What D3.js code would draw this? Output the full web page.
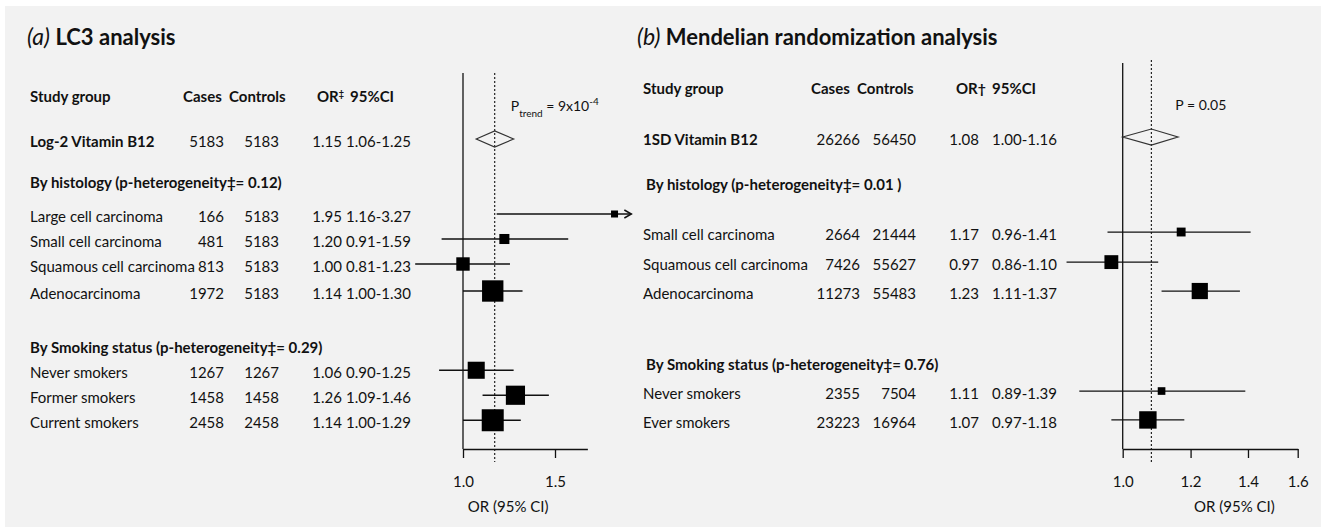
<!DOCTYPE html>
<html>
<head>
<meta charset="utf-8">
<script src="https://cdn.jsdelivr.net/npm/d3@7"></script>
<style>
  body { margin: 0; background: #fff; }
  svg { display: block; font-family: Lato, "Noto Sans", sans-serif; }
</style>
</head>
<body>
<div id="container"></div>
<script>
const { d3 } = window;

// (a) LC3 analysis
const aLabels = ['Log-2 Vitamin B12', 'Large cell carcinoma', 'Small cell carcinoma', 'Squamous cell carcinoma',
  'Adenocarcinoma', 'Never smokers', 'Former smokers', 'Current smokers'];
const aCases = [5183, 166, 481, 813, 1972, 1267, 1458, 2458];
const aControls = [5183, 5183, 5183, 5183, 5183, 1267, 1458, 2458];
const aOR = [1.15, 1.95, 1.20, 1.00, 1.14, 1.06, 1.26, 1.14];
const aLo = [1.06, 1.16, 0.91, 0.81, 1.00, 0.90, 1.09, 1.00];
const aHi = [1.25, 3.27, 1.59, 1.23, 1.30, 1.25, 1.46, 1.29];
const aSections = ['By histology (p-heterogeneity‡= 0.12)', 'By Smoking status (p-heterogeneity‡= 0.29)'];
const aTicks = [1.0, 1.5];

// (b) Mendelian randomization analysis
const bLabels = ['1SD Vitamin B12', 'Small cell carcinoma', 'Squamous cell carcinoma', 'Adenocarcinoma',
  'Never smokers', 'Ever smokers'];
const bCases = [26266, 2664, 7426, 11273, 2355, 23223];
const bControls = [56450, 21444, 55627, 55483, 7504, 16964];
const bOR = [1.08, 1.17, 0.97, 1.23, 1.11, 1.07];
const bLo = [1.00, 0.96, 0.86, 1.11, 0.89, 0.97];
const bHi = [1.16, 1.41, 1.10, 1.37, 1.39, 1.18];
const bSections = ['By histology (p-heterogeneity‡= 0.01 )', 'By Smoking status (p-heterogeneity‡= 0.76)'];
const bTicks = [1.0, 1.2, 1.4, 1.6];

const W = 1321;
const H = 529;
const INK = '#111';
const FS = 15;
const f2 = d3.format('.2f');
const f1 = d3.format('.1f');

const svg = d3.select('#container')
  .append('svg')
  .attr('width', W)
  .attr('height', H);

svg.append('rect')
  .attr('x', 5).attr('y', 6)
  .attr('width', W - 5).attr('height', H - 8)
  .attr('fill', '#f2f2f2');

const panels = [
  {
    tag: '(a)', title: 'LC3 analysis', titleX: 27,
    labels: aLabels, cases: aCases, controls: aControls, or: aOR, lo: aLo, hi: aHi,
    sections: aSections, ticks: aTicks,
    orMark: '‡', orMarkSmall: true,
    labelX: 30, casesX: 224, ctrlX: 279, orX: 342, ciX: 346,
    head: [['Study group', 30], ['Cases', 183], ['Controls', 229], ['OR', 317], ['95%CI', 350]],
    rowY: d3.scaleLinear().domain([0, 1]).range([97, 122]),
    headSlot: 0, rowSlots: [1.8, 4.8, 5.8, 6.8, 7.88, 11.05, 12.05, 13.05], sectionSlots: [3.45, 10.05],
    x: d3.scaleLog().domain([1, 1.5]).range([463, 555]),
    axisMax: 1.73, clipMax: 2.1, lineTop: 73, dotTop: 73,
    boxScale: d3.scaleSqrt().domain([0, 250]).range([0, 22.6]), boxMin: 7,
    lw: 1.5,
    pText: 'trend', pX: 16, pY: 111,
    axisLabelAt: 1.22
  },
  {
    tag: '(b)', title: 'Mendelian randomization analysis', titleX: 637,
    labels: bLabels, cases: bCases, controls: bControls, or: bOR, lo: bLo, hi: bHi,
    sections: bSections, ticks: bTicks,
    orMark: '†', orMarkSmall: false,
    labelX: 643, casesX: 860, ctrlX: 916, orX: 979, ciX: 992,
    head: [['Study group', 643], ['Cases', 811], ['Controls', 857], ['OR', 956], ['95%CI', 992]],
    rowY: d3.scaleLinear().domain([0, 1]).range([89, 118.5]),
    headSlot: 0, rowSlots: [1.73, 4.95, 5.97, 6.95, 10.34, 11.32], sectionSlots: [3.25, 9.36],
    sectionX: 646,
    x: d3.scaleLog().domain([1, 1.6]).range([1122.7, 1297.7]),
    axisMax: 1.6, clipMax: 1.6, lineTop: 63, dotTop: 60,
    boxScale: d3.scaleSqrt().domain([0, 400]).range([0, 17.4]), boxMin: 7,
    lw: 1.2,
    pText: null, pX: 24, pY: 110,
    axisLabelAt: 1.35
  }
];

const AXIS_Y = 449;

function drawTable(g, p) {
  const y = (s) => p.rowY(s) + 5;

  g.append('text')
    .attr('x', p.titleX).attr('y', 45)
    .attr('fill', INK)
    .call((t) => {
      t.append('tspan').attr('font-style', 'italic').attr('font-size', 23).text(p.tag + ' ');
      t.append('tspan').attr('font-weight', 'bold').attr('font-size', 22).text(p.title);
    });

  // column headers
  g.selectAll('.head')
    .data(p.head)
    .join('text')
    .attr('class', 'head')
    .attr('x', (d) => d[1]).attr('y', y(p.headSlot))
    .attr('font-size', FS).attr('font-weight', 'bold').attr('fill', INK)
    .each(function (d) {
      const t = d3.select(this);
      t.text(d[0]);
      if (d[0] === 'OR') {
        t.append('tspan')
          .attr('font-size', p.orMarkSmall ? 9 : 14)
          .attr('baseline-shift', p.orMarkSmall ? 'super' : '0')
          .text(p.orMark);
      }
    });

  g.selectAll('.section')
    .data(p.sections)
    .join('text')
    .attr('class', 'section')
    .attr('x', p.sectionX || p.labelX)
    .attr('y', (d, i) => y(p.sectionSlots[i]))
    .attr('font-size', FS).attr('font-weight', 'bold').attr('fill', INK)
    .text((d) => d);

  const rows = g.selectAll('.row')
    .data(p.labels)
    .join('g')
    .attr('class', 'row')
    .attr('transform', (d, i) => `translate(0,${y(p.rowSlots[i])})`)
    .attr('font-size', FS).attr('fill', INK);

  rows.append('text')
    .attr('x', p.labelX)
    .attr('font-weight', (d, i) => (i === 0 ? 'bold' : 'normal'))
    .text((d) => d);
  rows.append('text')
    .attr('x', p.casesX).attr('text-anchor', 'end')
    .text((d, i) => p.cases[i]);
  rows.append('text')
    .attr('x', p.ctrlX).attr('text-anchor', 'end')
    .text((d, i) => p.controls[i]);
  rows.append('text')
    .attr('x', p.orX).attr('text-anchor', 'end')
    .text((d, i) => f2(p.or[i]));
  rows.append('text')
    .attr('x', p.ciX)
    .text((d, i) => `${f2(p.lo[i])}-${f2(p.hi[i])}`);
}

function drawForest(g, p) {
  const { x } = p;
  const my = (s) => p.rowY(s) - 3;

  // reference line at OR = 1
  g.append('line')
    .attr('x1', x(1)).attr('x2', x(1))
    .attr('y1', p.lineTop).attr('y2', AXIS_Y)
    .attr('stroke', INK).attr('stroke-width', 1.3);

  // dotted line at the overall estimate
  g.append('line')
    .attr('x1', x(p.or[0])).attr('x2', x(p.or[0]))
    .attr('y1', p.dotTop).attr('y2', AXIS_Y + 13)
    .attr('stroke', INK).attr('stroke-width', 1.1)
    .attr('stroke-dasharray', '2,2');

  // axis
  const axisScale = x.copy().domain([1, p.axisMax]).range([x(1), x(p.axisMax)]);
  const axis = g.append('g')
    .attr('transform', `translate(0,${AXIS_Y})`)
    .call(d3.axisBottom(axisScale)
      .tickValues(p.ticks)
      .tickFormat(f1)
      .tickSize(9)
      .tickSizeOuter(0)
      .tickPadding(18));
  axis.selectAll('path, line').attr('stroke', INK).attr('stroke-width', 1.3);
  axis.selectAll('text')
    .attr('font-size', FS).attr('fill', INK)
    .attr('font-family', 'Lato, "Noto Sans", sans-serif');

  g.append('text')
    .attr('x', x(p.axisLabelAt)).attr('y', 512)
    .attr('text-anchor', 'middle')
    .attr('font-size', FS).attr('fill', INK)
    .text('OR (95% CI)');

  // p-value note
  const pt = g.append('text')
    .attr('x', x(p.or[0]) + p.pX).attr('y', p.pY)
    .attr('font-size', 14).attr('fill', INK);
  if (p.pText) {
    pt.append('tspan').text('P');
    pt.append('tspan').attr('font-size', 10).attr('baseline-shift', 'sub').text(p.pText);
    pt.append('tspan').text(' = 9x10');
    pt.append('tspan').attr('font-size', 10).attr('baseline-shift', 'super').text('-4');
  } else {
    pt.text('P = 0.05');
  }

  // overall diamond
  const dy = my(p.rowSlots[0]);
  g.append('path')
    .attr('d', d3.line()([
      [x(p.lo[0]), dy], [x(p.or[0]), dy - 8], [x(p.hi[0]), dy], [x(p.or[0]), dy + 8]
    ]) + 'Z')
    .attr('fill', 'none')
    .attr('stroke', '#333').attr('stroke-width', 1.2);

  // subgroup estimates
  const idx = d3.range(1, p.labels.length);
  const se = (i) => (Math.log(p.hi[i]) - Math.log(p.lo[i])) / (2 * 1.96);
  const side = (i) => Math.max(p.boxMin, p.boxScale(1 / (se(i) * se(i))));

  g.selectAll('.ci')
    .data(idx)
    .join('line')
    .attr('class', 'ci')
    .attr('x1', (i) => x(p.lo[i]))
    .attr('x2', (i) => x(Math.min(p.hi[i], p.clipMax)))
    .attr('y1', (i) => my(p.rowSlots[i]))
    .attr('y2', (i) => my(p.rowSlots[i]))
    .attr('stroke', INK).attr('stroke-width', p.lw);

  g.selectAll('.arrow')
    .data(idx.filter((i) => p.hi[i] > p.clipMax))
    .join('path')
    .attr('class', 'arrow')
    .attr('d', (i) => {
      const tx = x(p.clipMax);
      const ty = my(p.rowSlots[i]);
      return `M${tx - 7},${ty - 4}L${tx},${ty}L${tx - 7},${ty + 4}`;
    })
    .attr('fill', 'none')
    .attr('stroke', INK).attr('stroke-width', p.lw);

  g.selectAll('.box')
    .data(idx)
    .join('rect')
    .attr('class', 'box')
    .attr('x', (i) => x(p.or[i]) - side(i) / 2)
    .attr('y', (i) => my(p.rowSlots[i]) - side(i) / 2)
    .attr('width', side)
    .attr('height', side)
    .attr('fill', '#000');
}

panels.forEach((p) => {
  const g = svg.append('g');
  drawTable(g, p);
  drawForest(g, p);
});
</script>
</body>
</html>
